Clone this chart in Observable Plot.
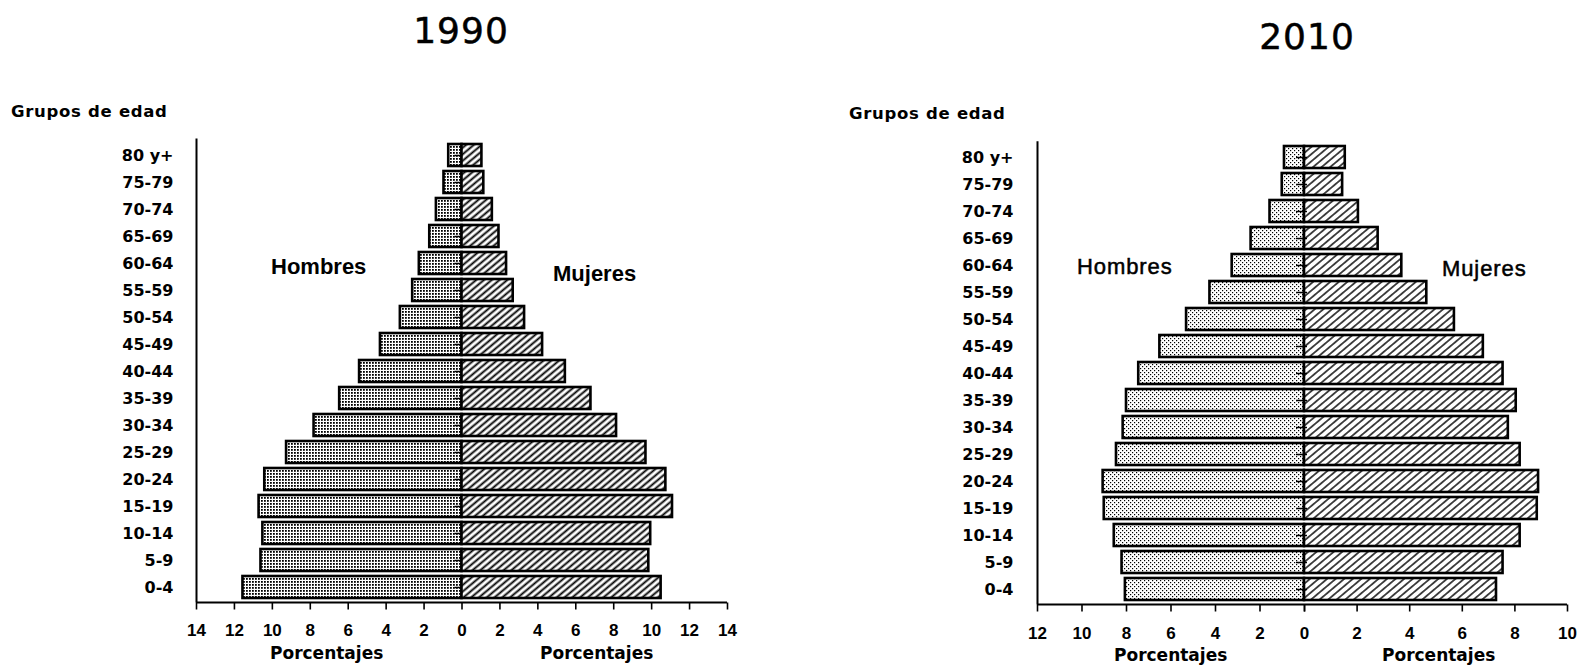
<!DOCTYPE html>
<html><head><meta charset="utf-8">
<script src="https://cdn.jsdelivr.net/npm/d3@7"></script>
<script src="https://cdn.jsdelivr.net/npm/@observablehq/plot@0.6"></script>
<style>
body{margin:0;background:#fff;width:1583px;height:665px;position:relative;overflow:hidden;}
.t{position:absolute;white-space:nowrap;line-height:1;color:#000;}
.title{font-family:"DejaVu Sans";font-size:36px;letter-spacing:1px;width:200px;text-align:center;-webkit-text-stroke:0.5px #000;}
.grp{font-family:"DejaVu Sans";font-weight:bold;font-size:16.5px;letter-spacing:0.7px;}
.sexA{font-family:"Liberation Sans";font-weight:bold;font-size:22px;}
.sexB{font-family:"Liberation Sans";font-size:22px;letter-spacing:0.9px;-webkit-text-stroke:0.5px #000;}
.pct{font-family:"DejaVu Sans";font-weight:bold;font-size:17px;}
.chart{position:absolute;top:128px;}
svg{overflow:visible;}
</style></head><body>
<svg width="0" height="0" style="position:absolute">
  <defs>
    <pattern id="dots1990" patternUnits="userSpaceOnUse" width="3" height="3">
      <rect width="3" height="3" fill="#fff"/>
      <rect x="0" y="0" width="1.8" height="1.8" fill="#000"/>
    </pattern>
    <pattern id="dots2010" patternUnits="userSpaceOnUse" width="4" height="4">
      <rect width="4" height="4" fill="#fff"/>
      <rect x="0" y="0" width="1.2" height="1.2" fill="#000"/>
      <rect x="2" y="2" width="1.2" height="1.2" fill="#000"/>
    </pattern>
    <pattern id="hatch1990" patternUnits="userSpaceOnUse" width="5" height="5" patternTransform="rotate(50)">
      <rect width="5" height="5" fill="#fff"/>
      <line x1="2.5" y1="0" x2="2.5" y2="5" stroke="#000" stroke-width="1.9"/>
    </pattern>
    <pattern id="hatch2010" patternUnits="userSpaceOnUse" width="5.5" height="5.5" patternTransform="rotate(50)">
      <rect width="5.5" height="5.5" fill="#fff"/>
      <line x1="2.75" y1="0" x2="2.75" y2="5.5" stroke="#000" stroke-width="1.4"/>
    </pattern>
  </defs>
</svg>

<div class="t title" style="left:361px;top:13px;">1990</div>
<div class="t title" style="left:1207px;top:19px;">2010</div>
<div class="t grp" style="left:11px;top:104px;">Grupos de edad</div>
<div class="t grp" style="left:849px;top:106px;">Grupos de edad</div>

<div id="c1990" class="chart" style="left:0px;"></div>
<div id="c2010h" class="chart" style="left:800px;"></div>
<div id="c2010m" class="chart" style="left:1304px;"></div>

<div class="t sexA" style="left:271px;top:256px;">Hombres</div>
<div class="t sexA" style="left:553px;top:263px;">Mujeres</div>
<div class="t sexB" style="left:1077px;top:256px;">Hombres</div>
<div class="t sexB" style="left:1442px;top:258px;">Mujeres</div>
<div class="t pct" style="left:270px;top:645px;">Porcentajes</div>
<div class="t pct" style="left:540px;top:645px;">Porcentajes</div>
<div class="t pct" style="left:1114px;top:647px;">Porcentajes</div>
<div class="t pct" style="left:1382px;top:647px;">Porcentajes</div>

<script>
const ageGroups = ["80 y+","75-79","70-74","65-69","60-64","55-59","50-54","45-49","40-44",
                   "35-39","30-34","25-29","20-24","15-19","10-14","5-9","0-4"];
const hombres1990 = [0.7,0.95,1.35,1.7,2.25,2.6,3.25,4.3,5.4,6.45,7.8,9.25,10.4,10.7,10.5,10.6,11.55];
const mujeres1990 = [1.05,1.15,1.6,1.95,2.35,2.7,3.3,4.25,5.45,6.8,8.15,9.7,10.75,11.1,9.95,9.85,10.5];
const hombres2010 = [0.9,1.0,1.55,2.4,3.25,4.25,5.3,6.5,7.45,8.0,8.15,8.45,9.05,9.0,8.55,8.2,8.05];
const mujeres2010 = [1.55,1.45,2.05,2.8,3.7,4.65,5.7,6.8,7.55,8.05,7.75,8.2,8.9,8.85,8.2,7.55,7.3];
const ticks1990 = [-14,-12,-10,-8,-6,-4,-2,0,2,4,6,8,10,12,14];
const ticks2010Hombres = [12,10,8,6,4,2,0];
const ticks2010Mujeres = [0,2,4,6,8,10];

function rows(values, sign) {
  return ageGroups.map((g, i) => ({grupo: g, valor: sign * values[i]}));
}

const baseStyle = {fontFamily: "Liberation Sans", fontSize: "17px", fontWeight: "bold", color: "#000", background: "transparent", overflow: "visible"};
const yScale = {domain: ageGroups, paddingInner: 0.2, paddingOuter: 0.1, label: null};
const xTickText = {fontFamily: "Liberation Sans", fontSize: 17, fontWeight: "bold", strokeWidth: 1.6};
const yTickText = {fontFamily: "DejaVu Sans", fontSize: 16, fontWeight: "bold"};

function addBaseline(plot, ticks) {
  const sx = plot.scale("x");
  const fx = d3.scaleLinear().domain(sx.domain).range(sx.range);
  const yB = plot.scale("y").range[1];
  d3.select(plot).insert("line", ":first-child")
    .attr("x1", fx(ticks[0])).attr("x2", fx(ticks[ticks.length - 1]))
    .attr("y1", yB).attr("y2", yB)
    .attr("stroke", "#000").attr("stroke-width", 2.2);
  return plot;
}

// 1990: one symmetric plot
const p1990 = Plot.plot({
  width: 760, height: 537, marginLeft: 196, marginRight: 33, marginTop: 10.4, marginBottom: 62.5,
  style: baseStyle,
  x: {domain: [ticks1990[0], ticks1990[ticks1990.length - 1]]},
  y: yScale,
  marks: [
    Plot.barX(rows(hombres1990, -1), {x: "valor", y: "grupo", fill: "url(#dots1990)", stroke: "#000", strokeWidth: 2.6}),
    Plot.barX(rows(mujeres1990, 1), {x: "valor", y: "grupo", fill: "url(#hatch1990)", stroke: "#000", strokeWidth: 2.6}),
    Plot.ruleY(ageGroups, {y: d => d, x1: 0, x2: 0, insetLeft: -7, stroke: "#000", strokeWidth: 1.5}),
    Plot.ruleX([ticks1990[0]], {stroke: "#000", strokeWidth: 2}),
    Plot.axisX({ticks: ticks1990, tickFormat: d => Math.abs(d), tickSize: 7, tickPadding: 13.5, label: null, ...xTickText}),
    Plot.axisY({tickSize: 0, tickPadding: 23, label: null, ...yTickText})
  ]
});
document.getElementById("c1990").append(addBaseline(p1990, ticks1990));

// 2010: the source uses a different scale on each side, so each half has its own x scale
const p2010h = Plot.plot({
  width: 504, height: 537, marginLeft: 237, marginRight: 0, marginTop: 13.3, marginBottom: 60.5,
  style: baseStyle,
  x: {domain: [ticks2010Hombres[0], 0]},
  y: yScale,
  marks: [
    Plot.barX(rows(hombres2010, 1), {x: "valor", y: "grupo", fill: "url(#dots2010)", stroke: "#000", strokeWidth: 2.6}),
    Plot.ruleY(ageGroups, {y: d => d, x1: 0, x2: 0, insetLeft: -8, stroke: "#000", strokeWidth: 1.5}),
    Plot.ruleX([ticks2010Hombres[0]], {stroke: "#000", strokeWidth: 2}),
    Plot.axisX({ticks: ticks2010Hombres, tickSize: 7, tickPadding: 14.5, label: null, ...xTickText}),
    Plot.axisY({tickSize: 0, tickPadding: 24, label: null, ...yTickText})
  ]
});
document.getElementById("c2010h").append(addBaseline(p2010h, ticks2010Hombres));

const p2010m = Plot.plot({
  width: 279, height: 537, marginLeft: 0, marginRight: 16, marginTop: 13.3, marginBottom: 60.5,
  style: baseStyle,
  x: {domain: [0, ticks2010Mujeres[ticks2010Mujeres.length - 1]]},
  y: yScale,
  marks: [
    Plot.barX(rows(mujeres2010, 1), {x: "valor", y: "grupo", fill: "url(#hatch2010)", stroke: "#000", strokeWidth: 2.6}),
    Plot.ruleY(ageGroups, {y: d => d, x1: 0, x2: 0, insetRight: -3, stroke: "#000", strokeWidth: 1.5}),
    Plot.axisX({ticks: ticks2010Mujeres, tickFormat: d => d === 0 ? "" : d, tickSize: 7, tickPadding: 14.5, label: null, ...xTickText}),
    Plot.axisY({tickSize: 0, label: null, tickFormat: () => ""})
  ]
});
document.getElementById("c2010m").append(addBaseline(p2010m, ticks2010Mujeres));
</script>
</body></html>
